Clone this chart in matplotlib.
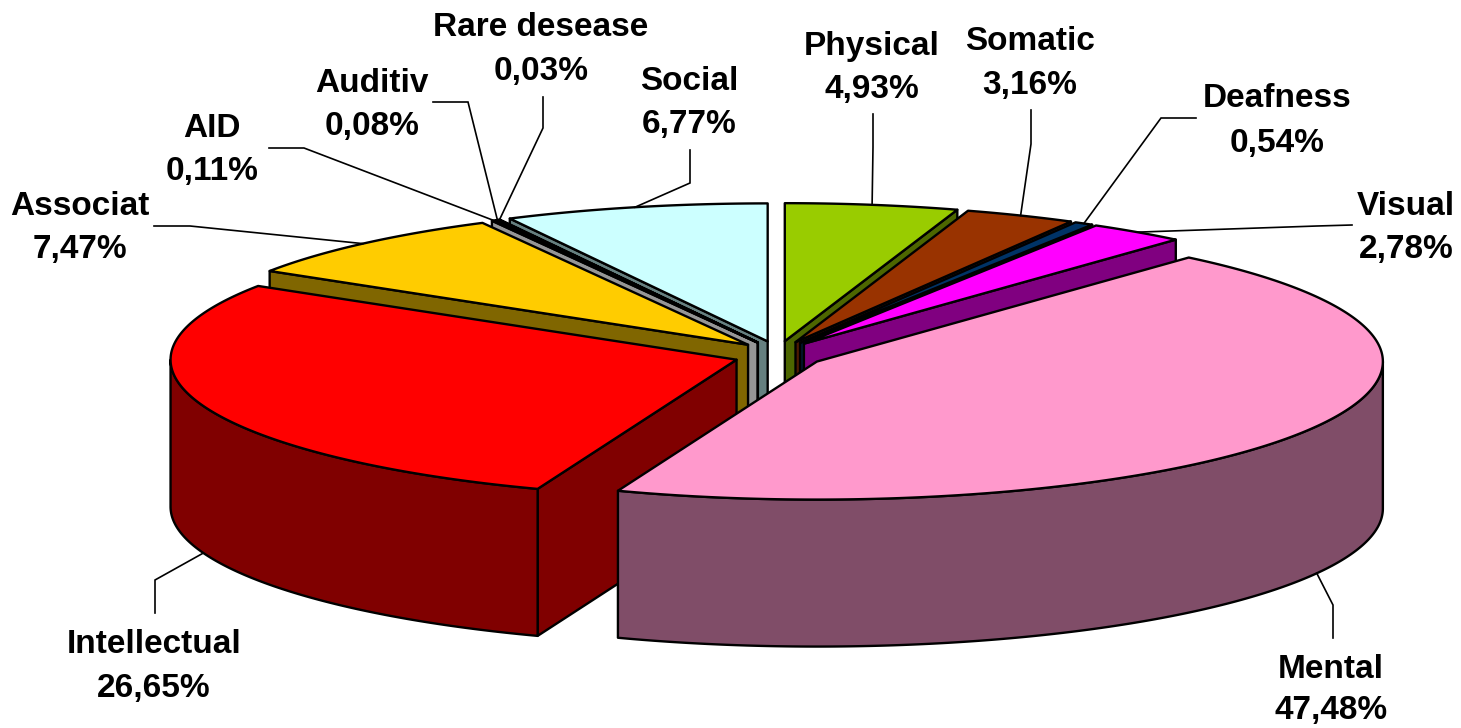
import numpy as np
import matplotlib
matplotlib.use("Agg")
import matplotlib.pyplot as plt
from matplotlib.patches import Polygon

# ---------------- data ----------------
categories = ["Physical", "Somatic", "Deafness", "Visual", "Mental", "Intellectual",
              "Associat", "AID", "Auditiv", "Rare desease", "Social"]
shares = [4.93, 3.16, 0.54, 2.78, 47.48, 26.65, 7.47, 0.11, 0.08, 0.03, 6.77]
top_colors = ["#99CC00", "#993300", "#003366", "#FF00FF", "#FF99CC", "#FF0000",
              "#FFCC00", "#FFFFFF", "#FFFFFF", "#FFFFFF", "#CCFFFF"]
side_colors = ["#4D6600", "#4D1A00", "#001A33", "#800080", "#804D68", "#800000",
               "#806600", "#969696", "#808080", "#808080", "#668080"]

# ---------------- layout (pixel space) ----------------
W, H = 1461, 728
CX, CY = 778, 355          # pie centre (top face)
RX, RY = 566, 138          # top ellipse radii
DEPTH = 147                # pie thickness
EX, EY = 44, 14            # explode offsets
SKEW, PIVOT = 11.5, 41.08  # view skew of the 3-D projection

# label text x-centre, baseline line 1, baseline line 2
label_pos = {
    "Physical": (872, 55, 98),
    "Somatic": (1030, 50, 94),
    "Deafness": (1277, 107, 152),
    "Visual": (1406, 215, 258),
    "Mental": (1331, 678, 719),
    "Intellectual": (154, 653, 697),
    "Associat": (80, 215, 258),
    "AID": (212, 137, 180),
    "Auditiv": (372, 92, 135),
    "Rare desease": (541, 36, 80),
    "Social": (689, 90, 133),
}
leader_elbows = {
    "Physical": [(873, 114), (873, 147)],
    "Somatic": [(1031, 110), (1031, 144)],
    "Deafness": [(1196, 118), (1161, 118)],
    "Visual": [(1352, 225), (1317, 226)],
    "Mental": [(1333, 638), (1333, 605)],
    "Intellectual": [(155, 613), (155, 580)],
    "Associat": [(154, 226), (190, 226)],
    "AID": [(269, 148), (304, 148)],
    "Auditiv": [(433, 102), (468, 102)],
    "Rare desease": [(543, 97), (543, 128)],
    "Social": [(690, 150), (690, 183)],
}


def warp(theta):
    t = float(theta)
    if t > PIVOT:
        t = t - SKEW * np.sin(np.pi * (t - PIVOT) / (360.0 - PIVOT))
    return t


def arc(ax_, ay_, p0, p1, z=0.0):
    n = max(2, int(abs(p1 - p0) * 2) + 2)
    ph = np.radians(np.linspace(p0, p1, n))
    return np.column_stack([ax_ + RX * np.sin(ph), ay_ - RY * np.cos(ph) + z])


fig = plt.figure(figsize=(W / 100, H / 100), dpi=100)
ax = fig.add_axes([0, 0, 1, 1])
ax.set_xlim(0, W)
ax.set_ylim(H, 0)
ax.axis("off")

total = float(sum(shares))
cum = np.concatenate([[0.0], np.cumsum(shares)]) / total * 360.0

slices = []
for i, name in enumerate(categories):
    ta, tb = cum[i], cum[i + 1]
    pa, pb = warp(ta), warp(tb)
    pm = warp((ta + tb) / 2)
    rm = np.radians(pm)
    apx = CX + EX * np.sin(rm)
    apy = CY - EY * np.cos(rm)
    slices.append(dict(i=i, name=name, pa=pa, pb=pb, pm=pm, apx=apx, apy=apy))

order = sorted(slices, key=lambda s: -np.cos(np.radians(s["pm"])))
EDGE = dict(edgecolor="black", linewidth=1.7, joinstyle="round")

for z, s in enumerate(order):
    i = s["i"]
    apx, apy, pa, pb = s["apx"], s["apy"], s["pa"], s["pb"]
    zb = 10 + z * 5
    # radial faces
    for p, vis in ((pa, np.sin(np.radians(pa)) < 0), (pb, np.sin(np.radians(pb)) > 0)):
        if vis:
            r = np.radians(p)
            cx_, cy_ = apx + RX * np.sin(r), apy - RY * np.cos(r)
            poly = [(apx, apy), (cx_, cy_), (cx_, cy_ + DEPTH), (apx, apy + DEPTH)]
            ax.add_patch(Polygon(poly, closed=True, facecolor=side_colors[i], zorder=zb, **EDGE))
    # outer wall (front half)
    lo, hi = max(pa, 90.0), min(pb, 270.0)
    if lo < hi:
        topa = arc(apx, apy, lo, hi)
        bota = arc(apx, apy, hi, lo, DEPTH)
        ax.add_patch(Polygon(np.vstack([topa, bota]), closed=True,
                             facecolor=side_colors[i], zorder=zb + 1, **EDGE))
    # top face
    pts = np.vstack([[[apx, apy]], arc(apx, apy, pa, pb)])
    ax.add_patch(Polygon(pts, closed=True, facecolor=top_colors[i], zorder=zb + 2, **EDGE))

# labels and leader lines
FONT = dict(family=["Liberation Sans", "DejaVu Sans"], fontweight="bold", fontsize=24,
            color="black", ha="center", va="baseline")
for s in slices:
    name = s["name"]
    i = s["i"]
    pct = f"{shares[i]:.2f}".replace(".", ",") + "%"
    lx, b1, b2 = label_pos[name]
    ax.text(lx, b1, name, zorder=200, **FONT)
    ax.text(lx, b2, pct, zorder=200, **FONT)
    rm = np.radians(s["pm"])
    axp = s["apx"] + RX * np.sin(rm)
    ayp = s["apy"] - RY * np.cos(rm)
    if np.cos(rm) < 0:
        ayp += DEPTH
    path = leader_elbows[name] + [(axp, ayp)]
    xs, ys = zip(*path)
    ax.plot(xs, ys, color="black", linewidth=1.2, zorder=150, solid_joinstyle="miter")

fig.savefig("out.png", dpi=100, facecolor="white")
